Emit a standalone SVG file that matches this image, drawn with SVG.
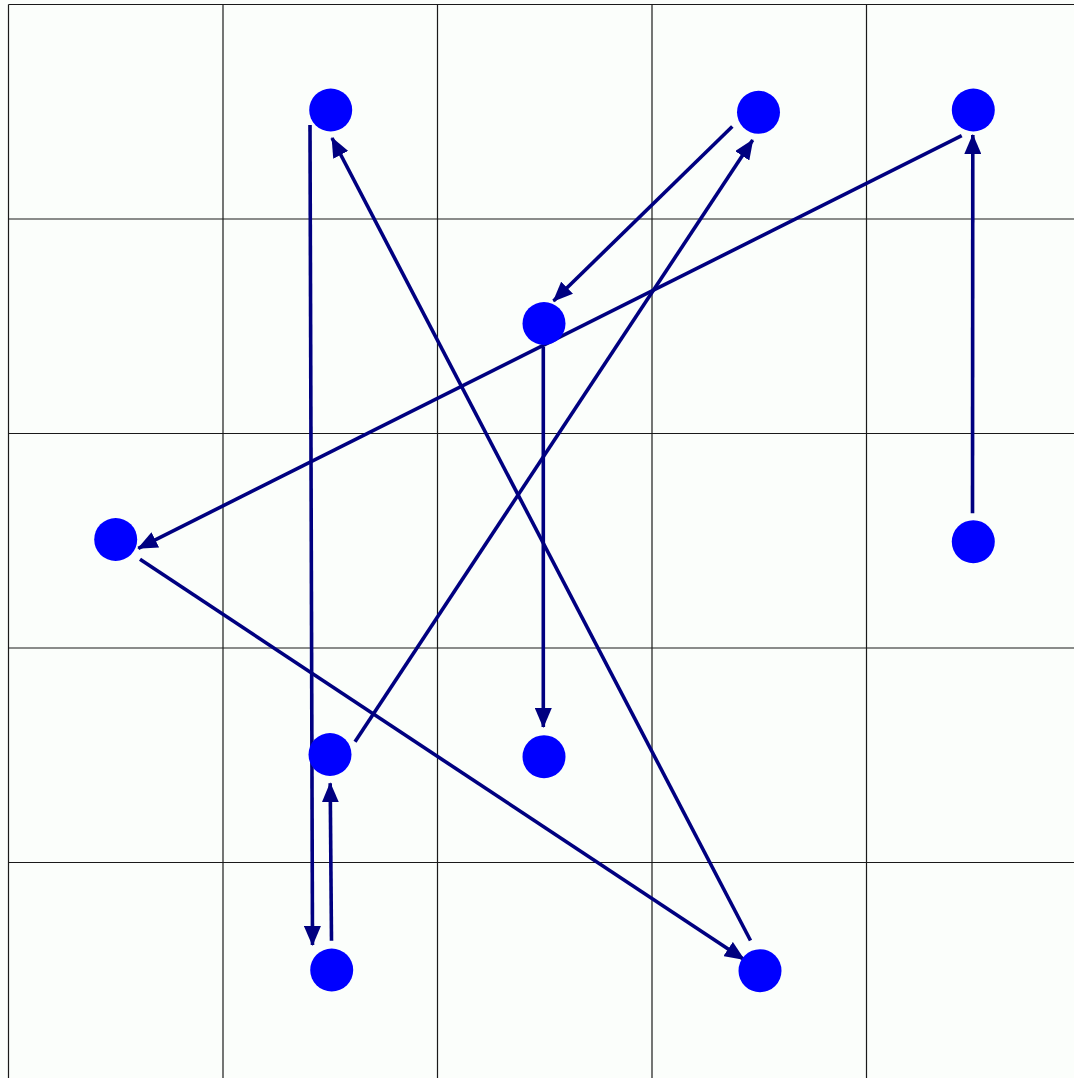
<svg xmlns="http://www.w3.org/2000/svg" width="1074" height="1078" viewBox="0 0 1074 1078">
<style>
.grid line{stroke:#1a1a1a;stroke-width:1.2}
.node{fill:#0000ff}
.edge{stroke:#000080;stroke-width:3.6;fill:none;marker-end:url(#arr)}
</style>
<defs>
<marker id="arr" markerUnits="userSpaceOnUse" markerWidth="20" markerHeight="17" viewBox="0 0 20 17" refX="19" refY="8.5" orient="auto">
<path d="M0,0 L20,8.5 L0,17 Z" fill="#000080"/>
</marker>
</defs>
<rect width="1074" height="1078" fill="#fbfefb"/>
<g class="grid">
<line x1="8.5" y1="4.5" x2="8.5" y2="1078"/>
<line x1="223" y1="4.5" x2="223" y2="1078"/>
<line x1="437.5" y1="4.5" x2="437.5" y2="1078"/>
<line x1="652" y1="4.5" x2="652" y2="1078"/>
<line x1="866.5" y1="4.5" x2="866.5" y2="1078"/>
<line x1="8.5" y1="4.5" x2="1074" y2="4.5"/>
<line x1="8.5" y1="219" x2="1074" y2="219"/>
<line x1="8.5" y1="433.5" x2="1074" y2="433.5"/>
<line x1="8.5" y1="648" x2="1074" y2="648"/>
<line x1="8.5" y1="862.5" x2="1074" y2="862.5"/>
</g>
<g id="connectors">
<line class="edge" x1="310" y1="125" x2="312.5" y2="945"/>
<line class="edge" x1="750.5" y1="940.5" x2="332" y2="138"/>
<line class="edge" x1="732.3" y1="126.5" x2="553.5" y2="301"/>
<line class="edge" x1="355" y1="741.7" x2="752.7" y2="140"/>
<line class="edge" x1="961.7" y1="135.7" x2="138.3" y2="548.3"/>
<line class="edge" x1="972.5" y1="513.3" x2="972.8" y2="135"/>
<line class="edge" x1="543.3" y1="347" x2="543.3" y2="727"/>
<line class="edge" x1="140" y1="559.3" x2="744" y2="959.5"/>
<line class="edge" x1="331.5" y1="940.7" x2="330.2" y2="783.3"/>
</g>
<g id="node-A"><circle class="node" cx="330.7" cy="110" r="21.5"/></g>
<g id="node-B"><circle class="node" cx="758.5" cy="112.3" r="21.5"/></g>
<g id="node-C"><circle class="node" cx="973.3" cy="110" r="21.5"/></g>
<g id="node-D"><circle class="node" cx="544" cy="323.5" r="21.5"/></g>
<g id="node-E"><circle class="node" cx="115.7" cy="539.5" r="21.5"/></g>
<g id="node-F"><circle class="node" cx="973.3" cy="541.7" r="21.5"/></g>
<g id="node-G"><circle class="node" cx="330" cy="754.5" r="21.5"/></g>
<g id="node-H"><circle class="node" cx="544" cy="756.7" r="21.5"/></g>
<g id="node-I"><circle class="node" cx="331.7" cy="970" r="21.5"/></g>
<g id="node-J"><circle class="node" cx="760" cy="970.7" r="21.5"/></g>
</svg>
